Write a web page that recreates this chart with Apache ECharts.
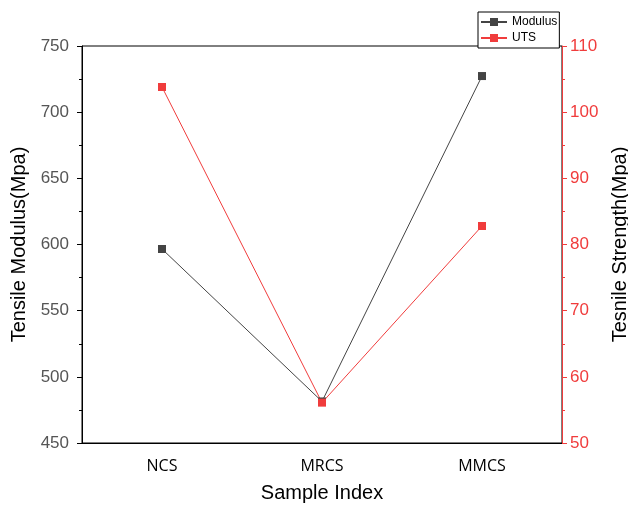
<!DOCTYPE html>
<html>
<head>
<meta charset="utf-8">
<script src="https://cdn.jsdelivr.net/npm/echarts@6/dist/echarts.min.js"></script>
<style>
  body { margin: 0; background: #fff; }
  #chart { width: 628px; height: 505px; }
</style>
</head>
<body>
<div id="chart"></div>
<script>
var categories = ['NCS', 'MRCS', 'MMCS'];
var modulus = [596.6, 481.4, 727.3];
var uts = [103.8, 56.1, 82.8];

var black = '#000';
var red = '#f03c3c';
var font = '"Liberation Sans", Arial, sans-serif';

var echart = echarts.init(document.getElementById('chart'));
echart.setOption({
  animation: false,
  textStyle: { fontFamily: font },
  grid: {
    left: 82, right: 66, top: 46, bottom: 62,
    outerBoundsMode: 'none', containLabel: false,
    show: true, borderColor: black, borderWidth: 1
  },
  legend: {
    data: ['Modulus', 'UTS'],
    orient: 'vertical',
    left: 478, top: 12,
    padding: [3, 2],
    itemGap: 2,
    itemWidth: 26, itemHeight: 10,
    borderColor: black, borderWidth: 1,
    backgroundColor: '#fff',
    textStyle: { fontFamily: font, fontSize: 12, color: black, lineHeight: 14 }
  },
  xAxis: [{
    type: 'category',
    data: categories,
    name: 'Sample Index',
    nameLocation: 'middle',
    nameGap: 40,
    nameTextStyle: { fontFamily: font, fontSize: 20, color: black },
    axisLine: { lineStyle: { color: black } },
    axisTick: { alignWithLabel: true, length: 4, lineStyle: { color: black } },
    axisLabel: { fontFamily: '"Open Sans", sans-serif', fontSize: 16, color: black, margin: 15 }
  }, {
    type: 'category',
    data: categories,
    position: 'bottom',
    axisLine: { lineStyle: { color: black } },
    axisTick: { length: 2, lineStyle: { color: black } },
    axisLabel: { show: false }
  }],
  yAxis: [{
    type: 'value',
    min: 450, max: 750, interval: 50,
    name: 'Tensile Modulus(Mpa)',
    nameLocation: 'middle',
    nameGap: 47,
    nameTextStyle: { fontFamily: font, fontSize: 20, color: black },
    splitLine: { show: false },
    axisLine: { show: true, lineStyle: { color: black } },
    axisTick: { show: true, length: 5, lineStyle: { color: black } },
    minorTick: { show: true, splitNumber: 2, length: 3, lineStyle: { color: black } },
    axisLabel: { fontFamily: font, fontSize: 17, color: '#555', margin: 13 }
  }, {
    type: 'value',
    position: 'right',
    min: 50, max: 110, interval: 10,
    name: 'Tesnile Strength(Mpa)',
    nameLocation: 'middle',
    nameGap: 48,
    nameTextStyle: { fontFamily: font, fontSize: 20, color: black },
    splitLine: { show: false },
    axisLine: { show: true, lineStyle: { color: red } },
    axisTick: { show: true, length: 5, lineStyle: { color: red } },
    minorTick: { show: true, splitNumber: 2, length: 3, lineStyle: { color: red } },
    axisLabel: { fontFamily: font, fontSize: 17, color: red, margin: 8 }
  }],
  series: [{
    name: 'Modulus',
    type: 'line',
    data: modulus,
    yAxisIndex: 0,
    symbol: 'rect',
    symbolSize: 8,
    itemStyle: { color: '#444' },
    lineStyle: { color: '#444', width: 1 }
  }, {
    name: 'UTS',
    type: 'line',
    data: uts,
    yAxisIndex: 1,
    symbol: 'rect',
    symbolSize: 8,
    itemStyle: { color: red },
    lineStyle: { color: red, width: 1 }
  }]
});
</script>
</body>
</html>
